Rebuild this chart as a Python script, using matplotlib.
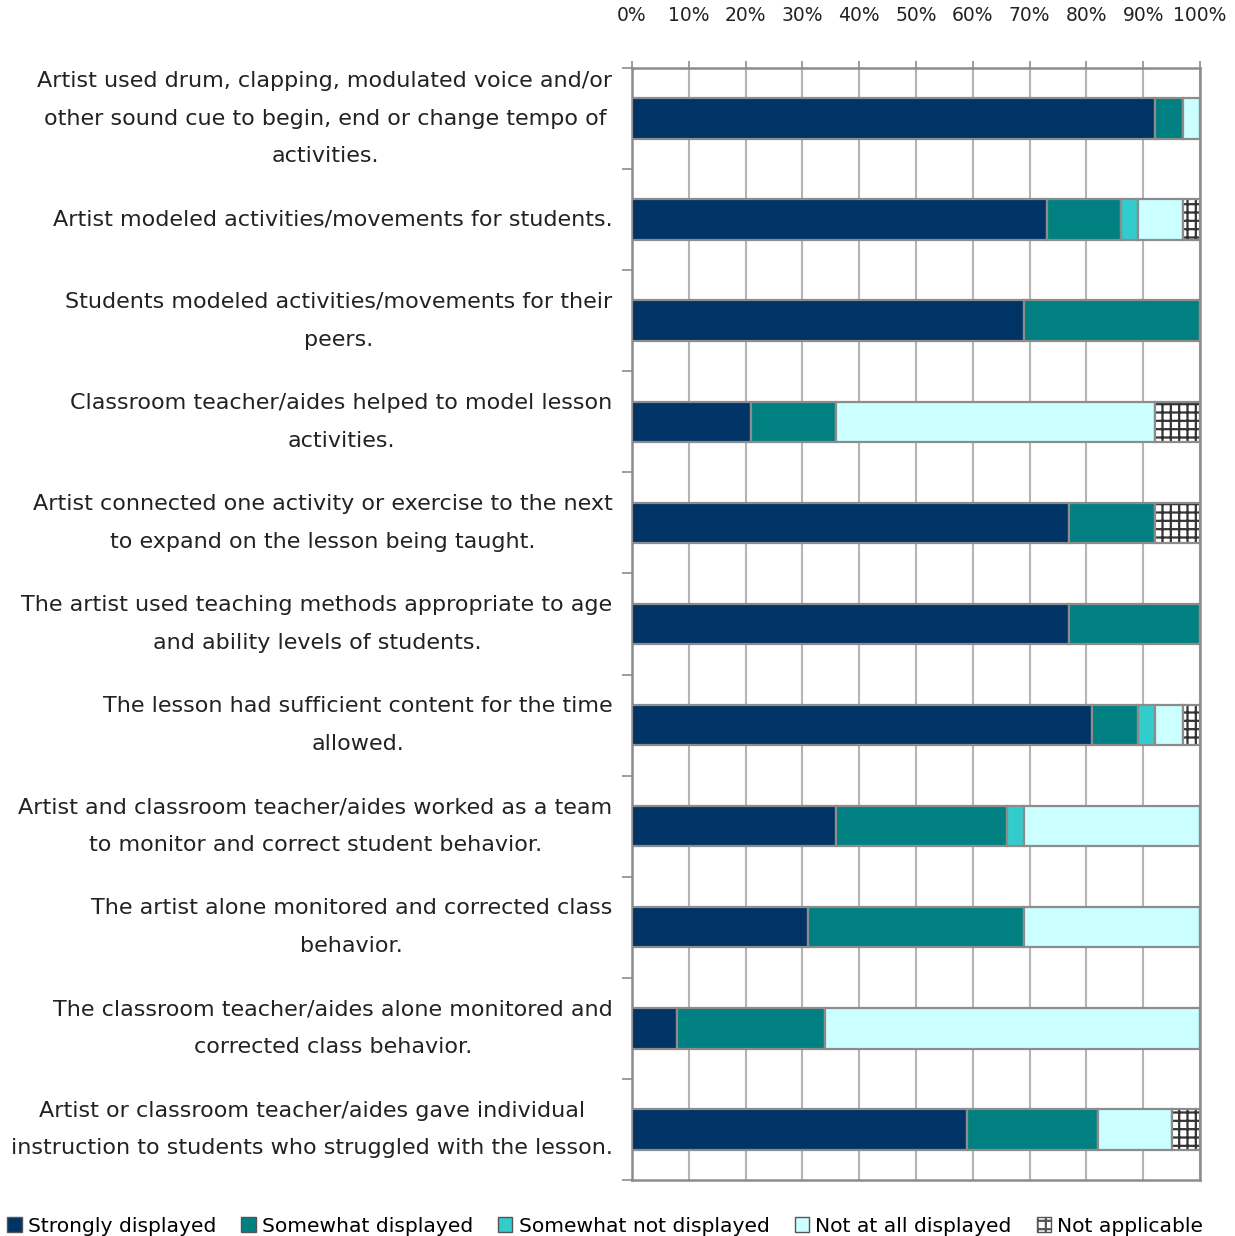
import matplotlib
matplotlib.use("Agg")
import matplotlib.pyplot as plt
from matplotlib.patches import Patch
import numpy as np

plt.rcParams["font.family"] = ["DejaVu Sans"]
plt.rcParams["hatch.linewidth"] = 1.6

# --------------------------- data ---------------------------

items = [
    "Artist used drum, clapping, modulated voice and/or\nother sound cue to begin, end or change tempo of\nactivities.",
    "Artist modeled activities/movements for students.",
    "Students modeled activities/movements for their\npeers.",
    "Classroom teacher/aides helped to model lesson\nactivities.",
    "Artist connected one activity or exercise to the next\nto expand on the lesson being taught.",
    "The artist used teaching methods appropriate to age\nand ability levels of students.",
    "The lesson had sufficient content for the time\nallowed.",
    "Artist and classroom teacher/aides worked as a team\nto monitor and correct student behavior.",
    "The artist alone monitored and corrected class\nbehavior.",
    "The classroom teacher/aides alone monitored and\ncorrected class behavior.",
    "Artist or classroom teacher/aides gave individual\ninstruction to students who struggled with the lesson.",
]

# percent of observations per rating
strongly     = [92, 73, 69, 21, 77, 77, 81, 36, 31,  8, 59]
somewhat     = [ 5, 13, 31, 15, 15, 23,  8, 30, 38, 26, 23]
somewhat_not = [ 0,  3,  0,  0,  0,  0,  3,  3,  0,  0,  0]
not_at_all   = [ 3,  8,  0, 56,  0,  0,  5, 31, 31, 66, 13]
not_appl     = [ 0,  3,  0,  8,  8,  0,  3,  0,  0,  0,  5]

series = [
    ("Strongly displayed", strongly, "#003366", None),
    ("Somewhat displayed", somewhat, "#008080", None),
    ("Somewhat not displayed", somewhat_not, "#33CCCC", None),
    ("Not at all displayed", not_at_all, "#CCFFFF", None),
    ("Not applicable", not_appl, "white", "++"),
]

xticks = np.arange(0, 101, 10)
xtick_labels = [f"{t}%" for t in xticks]

EDGE = "#8c8c8c"
HATCH = "#333333"
FS = 16

# ------------------------- plotting -------------------------

fig = plt.figure(figsize=(12.35, 12.36), dpi=100)
ax = fig.add_axes([0.5117, 0.0453, 0.9717 - 0.5117, 0.945 - 0.0453])

y = np.arange(len(items))
left = np.zeros(len(items))
for name, vals, color, hatch in series:
    vals = np.array(vals, dtype=float)
    if hatch:
        # hatch takes the edge colour, so lay the dark hatch first
        ax.barh(y, vals, left=left, height=0.4, color=color, edgecolor=HATCH,
                linewidth=0, hatch=hatch, zorder=3)
        ax.barh(y, vals, left=left, height=0.4, facecolor="none", edgecolor=EDGE,
                linewidth=1.6, zorder=4)
    else:
        ax.barh(y, vals, left=left, height=0.4, color=color, edgecolor=EDGE,
                linewidth=1.6, zorder=3)
    left += vals

ax.set_xlim(0, 100)
ax.set_ylim(len(items) - 0.5, -0.5)

# x axis along the top
ax.xaxis.tick_top()
ax.set_xticks(xticks)
ax.set_xticklabels(xtick_labels, fontsize=13.5, color="#222222")
ax.tick_params(axis="x", direction="out", length=5, width=1.2, color=EDGE, pad=26)
ax.grid(axis="x", color="#b4b4b4", linewidth=1.5, zorder=0)

# category labels at bar centres, boundary ticks between them
ax.set_yticks(y)
ax.set_yticklabels(items, fontsize=FS, color="#222222", multialignment="center",
                   linespacing=2.12)
for lbl in ax.get_yticklabels():
    lbl.set_verticalalignment("center")
ax.tick_params(axis="y", which="major", length=0, pad=14)
ax.set_yticks(np.arange(-0.5, len(items), 1.0), minor=True)
ax.tick_params(axis="y", which="minor", direction="out", length=7, width=1.2, color=EDGE)

for side in ["left", "top", "bottom", "right"]:
    ax.spines[side].set_color(EDGE)
    ax.spines[side].set_linewidth(1.8)

handles = [Patch(facecolor=c, edgecolor="#555555", hatch=h, linewidth=1.0, label=n)
           for n, _, c, h in series]
fig.legend(handles=handles, loc="center left", bbox_to_anchor=(0.006, 0.008),
           ncol=5, frameon=False, fontsize=14.6, handlelength=0.7, handleheight=0.7,
           handletextpad=0.3, columnspacing=1.25, borderpad=0, borderaxespad=0)

fig.savefig("out.png", dpi=100)
